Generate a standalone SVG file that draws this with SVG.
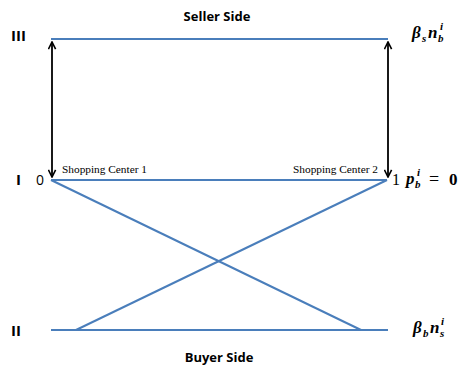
<svg xmlns="http://www.w3.org/2000/svg" width="460" height="369" viewBox="0 0 460 369">
<style>
.ln{stroke:#4a7ebb;stroke-width:2;fill:none}
.ar{stroke:#000;stroke-width:1.8;fill:none}
.lbl{font-family:"Open Sans","Liberation Sans",sans-serif;font-weight:bold;font-size:13px;fill:#000}
.num{font-family:"Open Sans","Liberation Sans",sans-serif;font-weight:bold;font-size:15px;fill:#000}
.sc{font-family:"Liberation Serif","DejaVu Serif",serif;font-size:10px;fill:#000}
.dig{font-family:"Open Sans","Liberation Sans",sans-serif;font-size:14px;fill:#000}
.digs{font-family:"Liberation Serif","DejaVu Serif",serif;font-size:16px;fill:#000}
.m{font-family:"Liberation Serif","DejaVu Serif",serif;font-weight:bold;font-style:italic;font-size:17px;fill:#000}
.ms{font-family:"Liberation Serif","DejaVu Serif",serif;font-weight:bold;font-style:italic;font-size:11px;fill:#000}
.mu{font-family:"Liberation Serif","DejaVu Serif",serif;font-weight:bold;font-size:17px;fill:#000}
.eq{font-family:"Liberation Serif","DejaVu Serif",serif;font-size:18px;fill:#000}
</style>
<defs>
<marker id="ah" viewBox="0 0 10 10" refX="9" refY="5" markerWidth="5" markerHeight="5" orient="auto-start-reverse" markerUnits="strokeWidth">
<path d="M1,1 L9,5 L1,9" fill="none" stroke="#000" stroke-width="1.8"/>
</marker>
</defs>
<g id="connectors">
<line class="ln" x1="51" y1="39" x2="388" y2="39"/>
<line class="ln" x1="51" y1="180" x2="387" y2="180"/>
<line class="ln" x1="51" y1="330" x2="388" y2="330"/>
<line class="ln" x1="51" y1="180" x2="361" y2="330"/>
<line class="ln" x1="387" y1="180" x2="76" y2="330"/>
<line class="ar" x1="52" y1="42" x2="52" y2="177" marker-start="url(#ah)" marker-end="url(#ah)"/>
<line class="ar" x1="388" y1="42" x2="388" y2="177" marker-start="url(#ah)" marker-end="url(#ah)"/>
</g>
<g id="seller-side"><text class="lbl" x="217" y="21" text-anchor="middle">Seller Side</text></g>
<g id="buyer-side"><text class="lbl" x="219" y="362" text-anchor="middle">Buyer Side</text></g>
<g id="level-III"><text class="num" x="11" y="41">III</text></g>
<g id="level-I"><text class="num" x="16" y="185">I</text></g>
<g id="level-II"><text class="num" x="11" y="336">II</text></g>
<g id="zero"><text class="dig" x="36" y="185">0</text></g>
<g id="one"><text class="digs" x="392" y="185">1</text></g>
<g id="sc1"><text class="sc" x="62" y="173" textLength="85" lengthAdjust="spacingAndGlyphs">Shopping Center 1</text></g>
<g id="sc2"><text class="sc" x="293" y="173" textLength="85" lengthAdjust="spacingAndGlyphs">Shopping Center 2</text></g>
<g id="math-top">
<text class="m" x="412" y="38">β</text>
<text class="ms" x="422" y="42">s</text>
<text class="m" x="428" y="38">n</text>
<text class="ms" x="438" y="42">b</text>
<text class="ms" x="440" y="30">i</text>
</g>
<g id="math-mid">
<text class="m" x="406" y="184">p</text>
<text class="ms" x="415" y="188">b</text>
<text class="ms" x="417" y="176">i</text>
<text class="eq" x="429" y="185">=</text>
<text class="mu" x="449" y="185">0</text>
</g>
<g id="math-bot">
<text class="m" x="413" y="333">β</text>
<text class="ms" x="423" y="337">b</text>
<text class="m" x="430" y="333">n</text>
<text class="ms" x="440" y="337">s</text>
<text class="ms" x="441" y="325">i</text>
</g>
</svg>
